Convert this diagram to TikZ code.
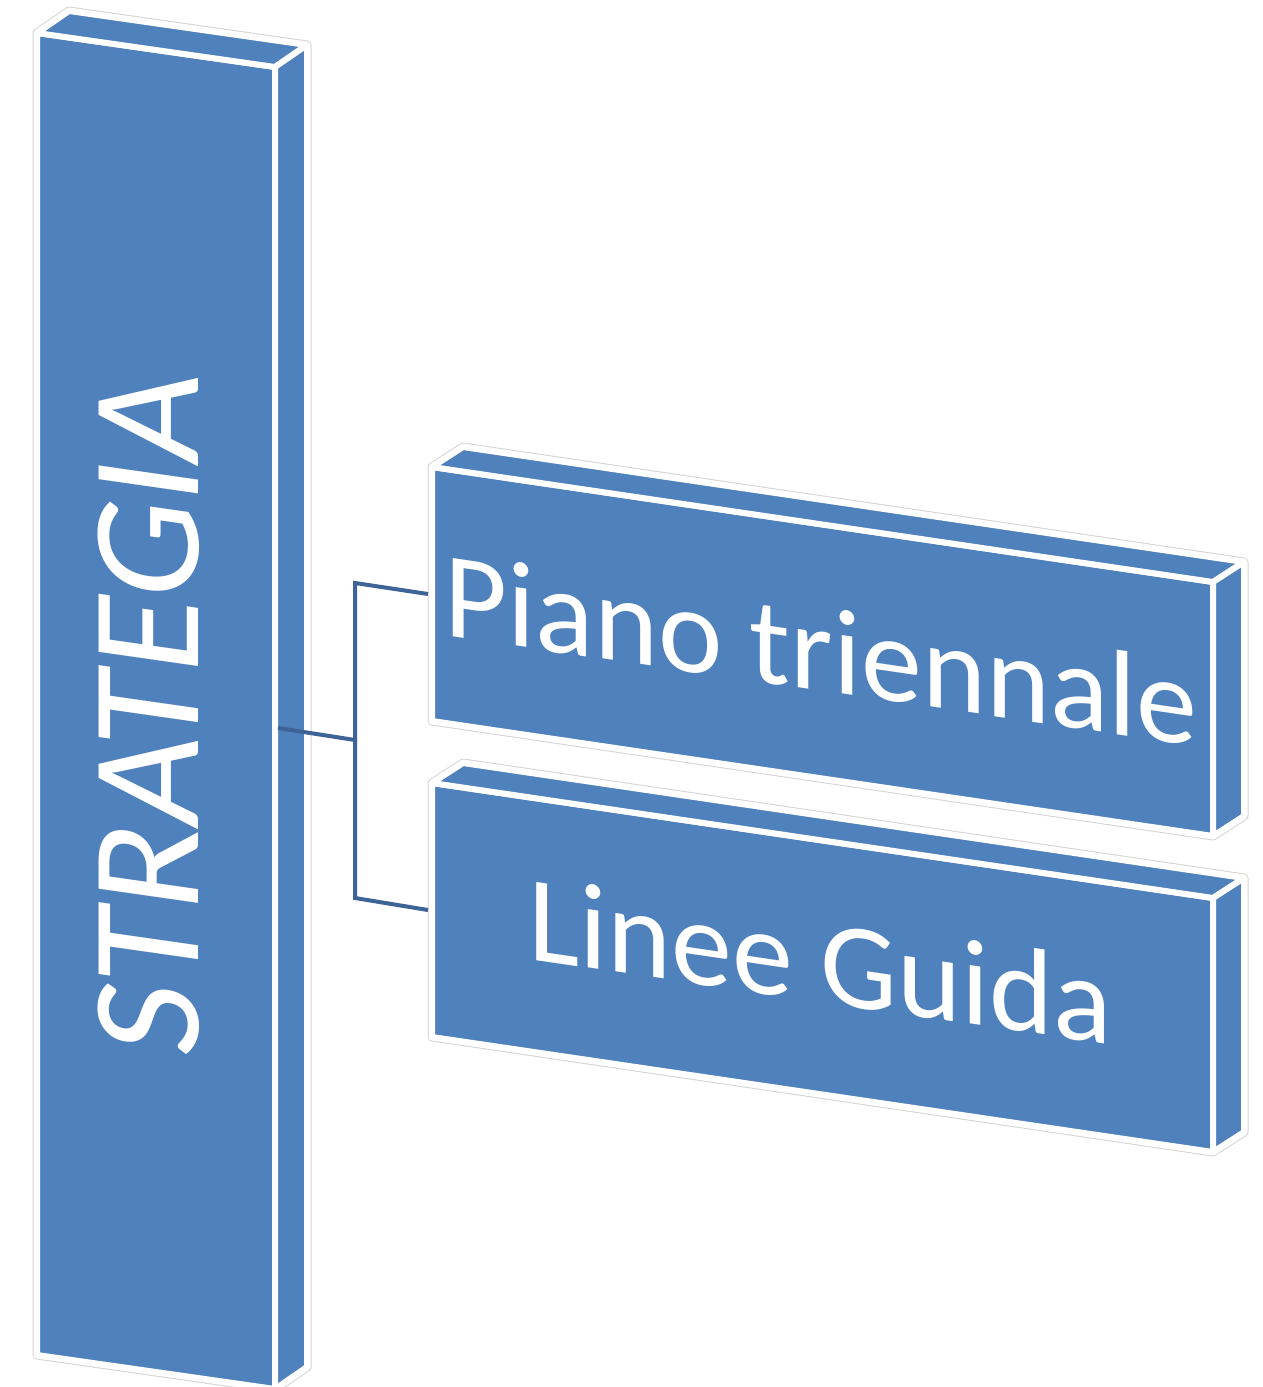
\documentclass[tikz,border=0pt]{standalone}
\usepackage{fontspec}
\setmainfont{Carlito}
\definecolor{blk}{HTML}{4F81BD}
\definecolor{edgegray}{HTML}{D4D4D4}
\definecolor{conn}{HTML}{3E6497}
\begin{document}
\begin{tikzpicture}[x=1pt,y=-1pt,
  halo/.style={draw=edgegray, line width=9pt, line join=round, fill=white},
  halo2/.style={draw=white, line width=7pt, line join=round},
  face/.style={fill=blk, draw=white, line width=6pt, line join=round},
  link/.style={draw=conn, line width=4pt},
  lbl/.style={text=white, inner sep=0pt, transform shape}]
\useasboundingbox (0,0) rectangle (1263,1387);
% STRATEGIA block
\coordinate (s1) at (37,33);
\coordinate (s2) at (275,67);
\coordinate (s3) at (275,1389);
\coordinate (s4) at (37,1355);
\coordinate (s5) at (69,11);
\coordinate (s6) at (307,45);
\coordinate (s7) at (307,1367);
% Piano block
\coordinate (p1) at (432,467);
\coordinate (p2) at (1213,582);
\coordinate (p3) at (1213,836);
\coordinate (p4) at (432,721);
\coordinate (p5) at (463,447);
\coordinate (p6) at (1244,562);
\coordinate (p7) at (1244,816);
% Linee block
\coordinate (l1) at (432,783);
\coordinate (l2) at (1213,898);
\coordinate (l3) at (1213,1152);
\coordinate (l4) at (432,1037);
\coordinate (l5) at (463,763);
\coordinate (l6) at (1244,878);
\coordinate (l7) at (1244,1132);

\foreach \b in {s,p,l}{
  \draw[halo] (\b4) -- (\b1) -- (\b5) -- (\b6) -- (\b7) -- (\b3) -- cycle;
  \draw[halo2] (\b4) -- (\b1) -- (\b5) -- (\b6) -- (\b7) -- (\b3) -- cycle;
  \draw[face] (\b1) -- (\b2) -- (\b3) -- (\b4) -- cycle;
  \draw[face] (\b1) -- (\b5) -- (\b6) -- (\b2) -- cycle;
  \draw[face] (\b2) -- (\b6) -- (\b7) -- (\b3) -- cycle;
}

% connectors
\coordinate (sc) at (278,728);
\coordinate (em) at (355,740);
\coordinate (et) at (355,583);
\coordinate (eb) at (355,898);
\coordinate (pc) at (428,594);
\coordinate (lc) at (428,910);
\draw[link] (sc) -- (em) -- (et) -- (pc);
\draw[link] (em) -- (eb) -- (lc);

% labels
\begin{scope}[shift={(198,719)}, yslant=-0.143]
  \node[lbl, rotate=90, anchor=base, font=\fontsize{155}{155}\selectfont] (st) at (0,0) {STRATEGIA};
\end{scope}
\begin{scope}[shift={(821,691)}, yslant=-0.147]
  \node[lbl, anchor=base, font=\fontsize{122}{122}\selectfont] (pt) at (0,0) {Piano triennale};
\end{scope}
\begin{scope}[shift={(820,1002)}, yslant=-0.147]
  \node[lbl, anchor=base, font=\fontsize{122}{122}\selectfont] (lt) at (0,0) {Linee Guida};
\end{scope}
\end{tikzpicture}
\end{document}
